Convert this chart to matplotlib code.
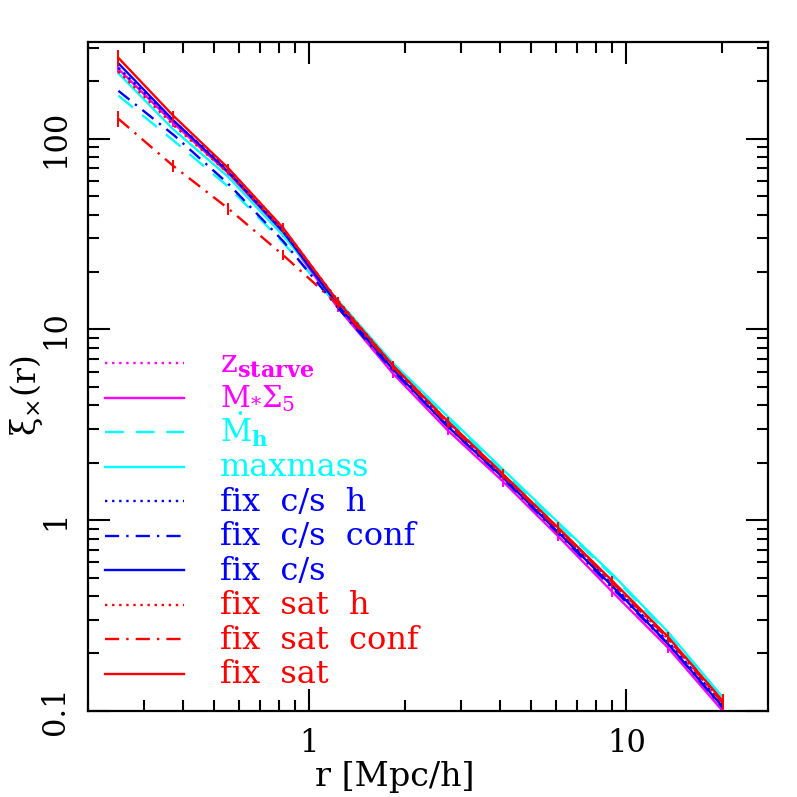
import numpy as np
import matplotlib
matplotlib.use("Agg")
import matplotlib.pyplot as plt
from matplotlib.ticker import FuncFormatter, NullFormatter

plt.rcParams["font.family"] = ["DejaVu Serif"]
plt.rcParams["mathtext.fontset"] = "dejavuserif"

# separations r [Mpc/h]
r = [0.25, 0.372, 0.555, 0.827, 1.23, 1.83, 2.73, 4.07, 6.06, 9.03, 13.5, 20.1]

# xi(r) per model
z_starve     = [228, 122, 70, 34, 14.0, 6.4, 3.2, 1.70, 0.89, 0.46, 0.230, 0.107]
mstar_sigma5 = [232, 121, 66, 32, 13.0, 5.9, 2.96, 1.60, 0.83, 0.42, 0.215, 0.100]
mdot_h       = [168, 98, 56, 28.5, 13.3, 6.5, 3.4, 1.80, 0.96, 0.51, 0.255, 0.116]
maxmass      = [220, 112, 63, 31, 14.2, 6.7, 3.5, 1.85, 0.98, 0.52, 0.260, 0.118]
fix_cs_h     = [235, 124, 69, 33, 13.8, 6.4, 3.2, 1.70, 0.89, 0.46, 0.232, 0.108]
fix_cs_conf  = [178, 105, 58, 29, 13.0, 6.1, 3.1, 1.66, 0.86, 0.44, 0.225, 0.104]
fix_cs       = [248, 125, 67, 32.5, 13.4, 6.2, 3.1, 1.68, 0.87, 0.45, 0.225, 0.105]
fix_sat_h    = [225, 118, 66, 33, 14.2, 6.5, 3.3, 1.74, 0.91, 0.47, 0.240, 0.110]
fix_sat_conf = [127, 72, 43, 24.5, 13.5, 6.4, 3.2, 1.72, 0.90, 0.47, 0.240, 0.110]
fix_sat      = [265, 132, 70, 34, 14.0, 6.5, 3.3, 1.75, 0.92, 0.48, 0.245, 0.113]

# error bars (only drawn for a few curves)
err_mstar   = [15, 6, 3, 1.5, 0.7, 0.35, 0.18, 0.10, 0.05, 0.025, 0.013, 0.007]
err_sat     = [25, 8, 4, 2, 0.8, 0.35, 0.18, 0.10, 0.06, 0.03, 0.015, 0.010]
err_satconf = [12, 5, 3, 1.5, 0.7, 0.3, 0.15, 0.08, 0.05, 0.025, 0.012, 0.008]

labels = [r"$\mathrm{z}_{\mathbf{starve}}$", r"$\mathrm{M}_{*}\Sigma_{5}$",
          r"$\dot{\mathrm{M}}_{\mathbf{h}}$", "maxmass", "fix  c/s  h", "fix  c/s  conf",
          "fix  c/s", "fix  sat  h", "fix  sat  conf", "fix  sat"]
label_sizes = [23, 21, 22, 23, 23, 23, 23, 23, 23, 23]
series = [z_starve, mstar_sigma5, mdot_h, maxmass, fix_cs_h, fix_cs_conf,
          fix_cs, fix_sat_h, fix_sat_conf, fix_sat]
errs = [None, err_mstar, None, None, None, None, None, None, err_satconf, err_sat]
colors = ["#ff00ff", "#ff00ff", "#00ffff", "#00ffff", "#0000ff", "#0000ff",
          "#0000ff", "#ff0000", "#ff0000", "#ff0000"]
styles = [(0, (1, 2)), "-", (0, (8, 5)), "-", (0, (1, 2)), (0, (6, 3, 1, 3)),
          "-", (0, (1, 2)), (0, (6, 3, 1, 3)), "-"]

fig = plt.figure(figsize=(7.97, 7.97), dpi=100)
ax = fig.add_axes([0.110, 0.108, 0.854, 0.839])

for y, e, c, ls in zip(series, errs, colors, styles):
    ax.plot(r, y, color=c, ls=ls, lw=1.7)
    if e is not None:
        ax.errorbar(r, y, yerr=e, fmt="none", ecolor=c, elinewidth=1.4, capsize=0)

ax.set_xscale("log")
ax.set_yscale("log")
ax.set_xlim(0.2, 28)
ax.set_ylim(0.1, 320)

fmt = FuncFormatter(lambda v, p: f"{v:g}")
ax.xaxis.set_major_formatter(fmt)
ax.yaxis.set_major_formatter(fmt)
ax.xaxis.set_minor_formatter(NullFormatter())
ax.yaxis.set_minor_formatter(NullFormatter())

ax.tick_params(which="both", direction="in", top=True, right=True, width=1.5,
               labelsize=22, pad=12)
ax.tick_params(which="major", length=16)
ax.tick_params(which="minor", length=8)
for lab in ax.get_yticklabels():
    lab.set_rotation(90)
    lab.set_va("center")
for s in ax.spines.values():
    s.set_linewidth(1.6)

ax.set_xlabel("r [Mpc/h]", fontsize=24)
ax.xaxis.set_label_coords(0.451, -0.075)
ax.set_ylabel("ξ$_{\\times}$(r)", fontsize=24)
ax.yaxis.set_label_coords(-0.062, 0.472)

# legend drawn by hand so rows are evenly spaced
row0, step = 0.520, 0.0516
for i, (lab, fs, c, ls) in enumerate(zip(labels, label_sizes, colors, styles)):
    yy = row0 - i * step
    ax.plot([0.025, 0.141], [yy, yy], transform=ax.transAxes, color=c, ls=ls, lw=1.7)
    ax.text(0.194, yy - 0.014, lab, transform=ax.transAxes, color=c,
            fontsize=fs, va="baseline", ha="left")

fig.savefig("out.png", dpi=100)
